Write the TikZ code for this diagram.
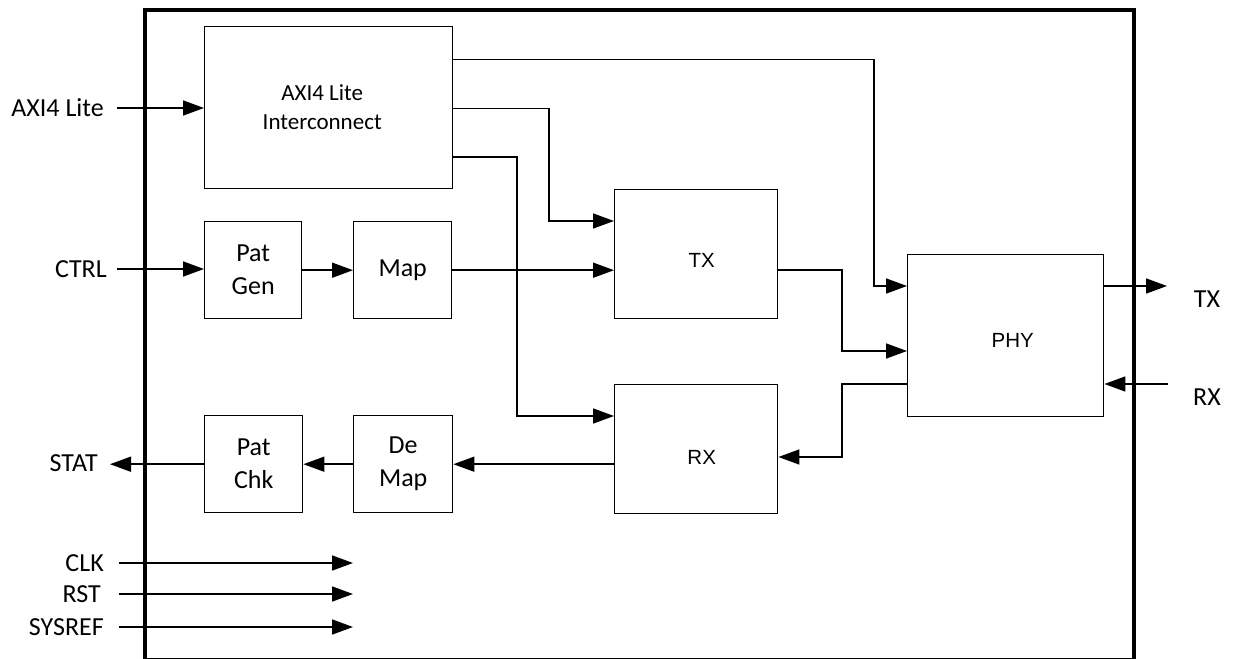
\documentclass[tikz,border=0pt]{standalone}
\usepackage{fontspec}
\setmainfont{Carlito}
\newfontfamily\arialf{Liberation Sans}
\usetikzlibrary{arrows.meta,calc}
\tikzset{
  box/.style={draw=black, line width=1.4pt, anchor=north west, inner sep=0pt, align=center,
    font=\fontsize{26}{33}\selectfont},
  biglbl/.style={inner sep=0pt, font=\fontsize{26}{33}\selectfont},
  midlbl/.style={inner sep=0pt, align=center, font=\fontsize{23}{29}\selectfont},
  arlbl/.style={inner sep=0pt, font=\arialf\fontsize{20.5}{25}\selectfont},
  conn/.style={line width=1.6pt, -{Triangle[length=21pt,width=15pt]}},
  frame/.style={line width=4pt}
}
\begin{document}
\begin{tikzpicture}[x=1pt,y=-1pt]
\useasboundingbox (0,0) rectangle (1233,658);
% outer frame
\draw[frame] (145,10) rectangle (1134,660);
% blocks
\node[box, minimum width=248pt, minimum height=162pt,
  label={[midlbl, xshift=-6.5pt, yshift=1pt]center:AXI4 Lite\\Interconnect}] (axi) at (204,26) {};
\node[box, minimum width=97pt, minimum height=97pt] (patgen) at (204,221) {Pat\\Gen};
\node[box, minimum width=98pt, minimum height=97pt] (map) at (353,221) {Map};
\node[box, minimum width=163pt, minimum height=129pt,
  label={[arlbl, xshift=5.5pt, yshift=-6.5pt]center:TX}] (tx) at (614,189) {};
\node[box, minimum width=163pt, minimum height=129pt,
  label={[arlbl, xshift=5.5pt, yshift=-8.5pt]center:RX}] (rx) at (614,384) {};
\node[box, minimum width=196pt, minimum height=162pt,
  label={[arlbl, xshift=7pt, yshift=-4.5pt]center:PHY}] (phy) at (907,254) {};
\node[box, minimum width=98pt, minimum height=97pt] (patchk) at (204,415) {Pat\\Chk};
\node[box, minimum width=99pt, minimum height=97pt] (demap) at (353,415) {De\\Map};
% outside labels
\node[biglbl, anchor=east] (axiL) at (104,108) {AXI4 Lite};
\node[biglbl, anchor=east] (ctrlL) at (107,269) {CTRL};
\node[biglbl, anchor=east] (statL) at (98,463.5) {STAT};
\node[biglbl, anchor=east] (clkL) at (104,563) {CLK};
\node[biglbl, anchor=east] (rstL) at (101,594) {RST};
\node[biglbl, anchor=east] (sysL) at (104,627) {SYSREF};
\node[biglbl] (txL) at (1207,299) {TX};
\node[biglbl] (rxL) at (1207,397) {RX};
% bend / free-end coordinates
\coordinate (b1) at (874,286);
\coordinate (b2) at (549,221);
\coordinate (b3) at (517,416);
\coordinate (b4) at (842,351);
\coordinate (b5a) at (842,384);
\coordinate (b5) at (842,457);
\coordinate (txo) at (1167,286);
\coordinate (rxi) at (1168,384);
\coordinate (clkE) at (353,563);
\coordinate (rstE) at (353,594);
\coordinate (sysE) at (353,627);
% connectors
\draw[conn] ([xshift=13pt]axiL.east) -- (axi.west |- axiL.east);
\draw[conn] ([xshift=10pt]ctrlL.east) -- (patgen.west |- ctrlL.east);
\draw[conn] ([yshift=48pt]axi.east) -| (b1) -- (b1 -| phy.west);
\draw[conn] ([yshift=-1pt]axi.east) -| (b2) -- (b2 -| tx.west);
\draw[conn] ([yshift=-49pt]axi.east) -| (b3) -- (b3 -| rx.west);
\draw[conn] (patgen.east) -- (map.west);
\draw[conn] (map.east) -- (map.east -| tx.west);
\draw[conn] (map.east -| tx.east) -| (b4) -- (b4 -| phy.west);
\draw[conn] (b5a -| phy.west) -- (b5a) -- (b5) -- (b5 -| rx.east);
\draw[conn] (phy.east |- txo) -- (txo);
\draw[conn] (rxi) -- (rxi -| phy.east);
\draw[conn] (demap.east -| rx.west) -- (demap.east);
\draw[conn] (demap.west) -- (patchk.east);
\draw[conn] (patchk.west) -- ([xshift=12pt]statL.east |- patchk.west);
\draw[conn] ([xshift=15pt]clkL.east) -- (clkE);
\draw[conn] ([xshift=18pt]rstL.east) -- (rstE);
\draw[conn] ([xshift=15pt]sysL.east) -- (sysE);
\end{tikzpicture}
\end{document}
